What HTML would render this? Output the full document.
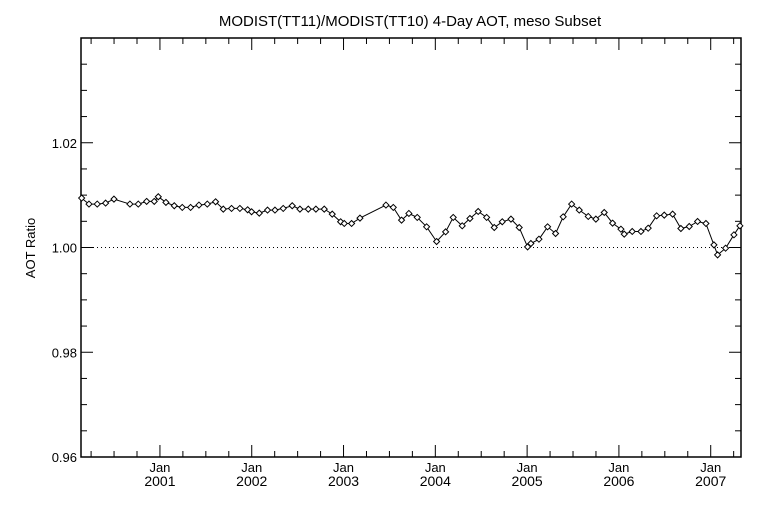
<!DOCTYPE html>
<html><head><meta charset="utf-8"><style>
body{margin:0;background:#fff;}
svg text{font-family:"Liberation Sans",sans-serif;fill:#000;}
</style></head><body>
<svg width="768" height="512" viewBox="0 0 768 512" id="chart">
<text x="410" y="26" font-size="15" text-anchor="middle">MODIST(TT11)/MODIST(TT10) 4-Day AOT, meso Subset</text>
<text x="0" y="0" font-size="13" text-anchor="middle" transform="translate(35,248) rotate(-90)">AOT Ratio</text>
<g id="axes"></g>
<g id="series"></g>
</svg>
<script>
const dates = [2000.147,2000.227,2000.317,2000.408,2000.499,2000.673,2000.764,2000.855,2000.938,2000.982,2001.065,2001.156,2001.243,2001.334,2001.425,2001.516,2001.606,2001.690,2001.780,2001.871,2001.955,2001.998,2002.082,2002.172,2002.253,2002.343,2002.441,2002.525,2002.616,2002.699,2002.790,2002.877,2002.968,2003.008,2003.088,2003.179,2003.462,2003.542,2003.632,2003.712,2003.803,2003.905,2004.014,2004.112,2004.195,2004.293,2004.377,2004.467,2004.559,2004.642,2004.729,2004.824,2004.914,2005.005,2005.041,2005.129,2005.223,2005.310,2005.393,2005.485,2005.568,2005.666,2005.749,2005.840,2005.931,2006.022,2006.058,2006.145,2006.240,2006.319,2006.411,2006.494,2006.585,2006.675,2006.766,2006.857,2006.948,2007.035,2007.075,2007.162,2007.253,2007.318];
const ratios = [1.00944,1.00829,1.00829,1.00848,1.00924,1.00829,1.00829,1.00880,1.00880,1.00969,1.00861,1.00797,1.00765,1.00765,1.00810,1.00829,1.00873,1.00733,1.00746,1.00746,1.00720,1.00682,1.00656,1.00714,1.00714,1.00746,1.00797,1.00733,1.00733,1.00733,1.00733,1.00637,1.00491,1.00459,1.00459,1.00561,1.00810,1.00765,1.00522,1.00650,1.00574,1.00395,1.00114,1.00299,1.00574,1.00414,1.00554,1.00688,1.00574,1.00382,1.00491,1.00542,1.00382,1.00012,1.00076,1.00159,1.00395,1.00267,1.00586,1.00829,1.00714,1.00593,1.00542,1.00669,1.00465,1.00350,1.00255,1.00306,1.00306,1.00369,1.00605,1.00618,1.00637,1.00363,1.00401,1.00497,1.00459,1.00050,0.99859,0.99987,1.00242,1.00414];
const yTicks = [0.96,0.98,1.00,1.02,1.04];
const yTickLabels = ["0.96","0.98","1.00","1.02",""];
const xYears = [2001,2002,2003,2004,2005,2006,2007];

const L=81,R=741,T=38,B=457;
const X0=2000.14,X1=2007.33,Y0=0.96,Y1=1.04;
const sx=d=>L+(d-X0)/(X1-X0)*(R-L);
const sy=v=>B-(v-Y0)/(Y1-Y0)*(B-T);
const NS="http://www.w3.org/2000/svg";
function mk(tag,attrs,parent){const e=document.createElementNS(NS,tag);for(const k in attrs)e.setAttribute(k,attrs[k]);parent.appendChild(e);return e;}
const ax=document.getElementById('axes');
const fr=mk('rect',{x:L,y:T,width:R-L,height:B-T,fill:'none',stroke:'#000','stroke-width':1.5},ax);


// y ticks
for(let v=Y0;v<=Y1+1e-9;v+=0.005){
  const y=sy(v);const major=Math.abs((v-Y0)/0.02-Math.round((v-Y0)/0.02))<1e-6;
  const len=major?12:6;
  const t1=mk('line',{x1:L,x2:L+len,y1:y,y2:y,stroke:'#000'},ax);
  
  
  const t2=mk('line',{x1:R,x2:R-len,y1:y,y2:y,stroke:'#000'},ax);
  
  
}
yTicks.forEach((v,i)=>{
  const t=mk('text',{x:L-4,y:sy(v)+5,'font-size':13,'text-anchor':'end'},ax);t.textContent=yTickLabels[i];
  
  
});
// x ticks
for(let d=2000.25;d<=X1;d+=0.25){
  if(d<X0)continue;
  const x=sx(d);const major=Math.abs(d-Math.round(d))<1e-6;const len=major?12:6;
  const t1=mk('line',{x1:x,x2:x,y1:B,y2:B-len,stroke:'#000'},ax);
  
  
  const t2=mk('line',{x1:x,x2:x,y1:T,y2:T+len,stroke:'#000'},ax);
  
  
}
xYears.forEach(yr=>{
  const x=sx(yr);
  const a=mk('text',{x:x,y:472,'font-size':13,'text-anchor':'middle'},ax);a.textContent='Jan';
  
  
  const b=mk('text',{x:x,y:486,'font-size':14,'text-anchor':'middle'},ax);b.textContent=String(yr);
  
  
});
const ref=mk('line',{x1:sx(X0)+12,x2:R,y1:sy(1.0),y2:sy(1.0),stroke:'#000','stroke-dasharray':'1,3'},ax);


// series
const sg=document.getElementById('series');
const pts=dates.map((d,i)=>sx(d).toFixed(1)+','+sy(ratios[i]).toFixed(1)).join(' ');
const pl=mk('polyline',{points:pts,fill:'none',stroke:'#000','stroke-width':1},sg);


dates.forEach((d,i)=>{
  const x=sx(d),y=sy(ratios[i]);
  const m=mk('polygon',{points:`${x},${y-3} ${x+3},${y} ${x},${y+3} ${x-3},${y}`,fill:'#fff',stroke:'#000','stroke-width':1},sg);
  
  
});
</script>
</body></html>
